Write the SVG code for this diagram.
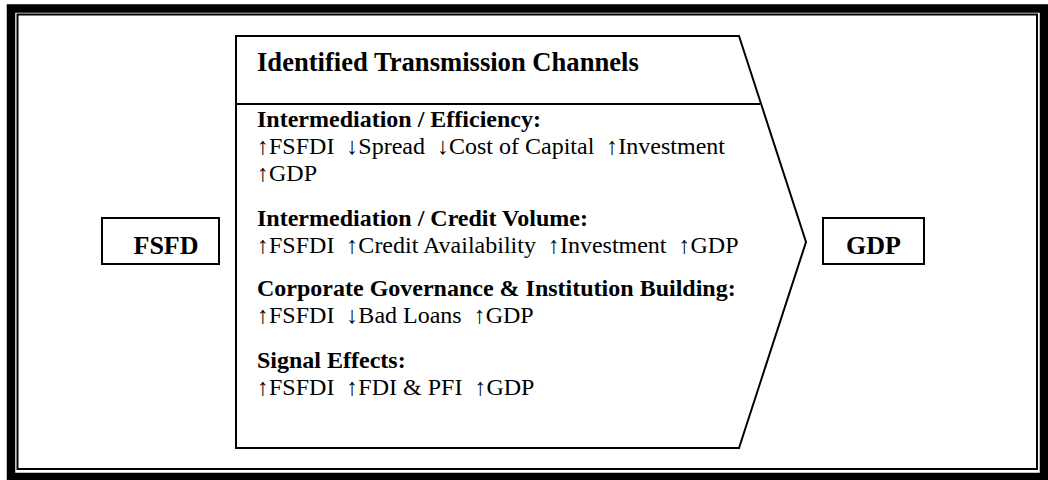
<svg xmlns="http://www.w3.org/2000/svg" width="1048" height="480" viewBox="0 0 1048 480">
<style>
  .ln { fill: none; stroke: #000; }
  .t { font-family: "Liberation Serif", "Times New Roman", "DejaVu Serif", serif; fill: #000; white-space: pre; }
  .b { font-weight: bold; }
  .s24 { font-size: 24px; }
  .s26 { font-size: 26px; }
  .hd { font-size: 26.6px; }
</style>
<rect width="1048" height="480" fill="#fff"/>
<g id="frame">
  <rect class="ln" x="11" y="8.5" width="1033" height="468.5" stroke-width="8.5"/>
  <rect class="ln" x="17.5" y="14.5" width="1019.5" height="454.5" stroke-width="2"/>
</g>
<g id="node-fsfd">
  <rect class="ln" x="102" y="218" width="117" height="46" stroke-width="2"/>
  <text class="t b s26" x="166" y="254" text-anchor="middle">FSFD</text>
</g>
<g id="node-channels">
  <polygon class="ln" points="236,36 739,36 806,242 739,448 236,448" stroke-width="2"/>
  <line class="ln" x1="236" y1="104" x2="760" y2="104" stroke-width="2"/>
  <text class="t b hd" x="257" y="71">Identified Transmission Channels</text>
  <text class="t b s24" x="257" y="127">Intermediation / Efficiency:</text>
  <text class="t s24" x="257" y="154">↑FSFDI  ↓Spread  ↓Cost of Capital  ↑Investment</text>
  <text class="t s24" x="257" y="181">↑GDP</text>
  <text class="t b s24" x="257" y="225.5">Intermediation / Credit Volume:</text>
  <text class="t s24" x="257" y="252.5">↑FSFDI  ↑Credit Availability  ↑Investment  ↑GDP</text>
  <text class="t b s24" x="257" y="296">Corporate Governance &amp; Institution Building:</text>
  <text class="t s24" x="257" y="323">↑FSFDI  ↓Bad Loans  ↑GDP</text>
  <text class="t b s24" x="257" y="367.5">Signal Effects:</text>
  <text class="t s24" x="257" y="394.5">↑FSFDI  ↑FDI &amp; PFI  ↑GDP</text>
</g>
<g id="node-gdp">
  <rect class="ln" x="823" y="218" width="101" height="46" stroke-width="2"/>
  <text class="t b s26" x="873.5" y="254" text-anchor="middle">GDP</text>
</g>
<g id="connectors"></g>
</svg>
